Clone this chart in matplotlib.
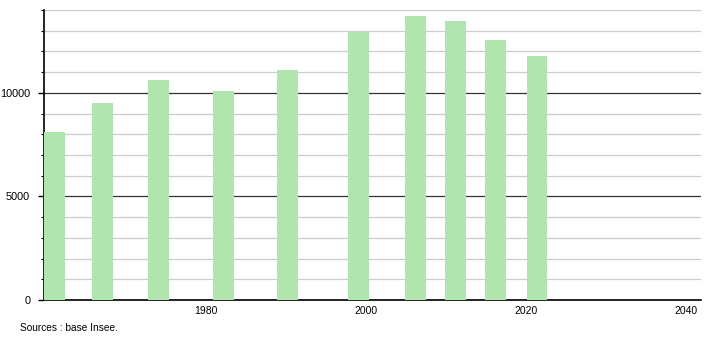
import matplotlib
matplotlib.use("Agg")
import matplotlib.pyplot as plt
from matplotlib.ticker import MultipleLocator

# Population (positions des barres)
annees = [1961, 1967, 1974, 1982.2, 1990.2, 1999.1, 2006.2, 2011.2, 2016.2, 2021.4]
population = [8120, 9510, 10640, 10080, 11080, 12920, 13690, 13450, 12530, 11760]

plt.rcParams['font.family'] = ['Liberation Sans', 'DejaVu Sans']

fig = plt.figure(figsize=(7.1, 3.4), dpi=100)
ax = fig.add_axes([0.062, 0.1176, 0.925, 0.853])

ax.bar(annees, population, width=2.6, color='#b0e5b0', zorder=3)

ax.set_xlim(1959.7, 2041.9)
ax.set_ylim(0, 14000)
ax.set_xticks([1980, 2000, 2020, 2040])
ax.yaxis.set_major_locator(MultipleLocator(5000))
ax.yaxis.set_minor_locator(MultipleLocator(1000))

ax.grid(axis='y', which='minor', color='#cccccc', lw=0.9, zorder=1)
ax.grid(axis='y', which='major', color='#333333', lw=0.9, zorder=2)

for s in ['top', 'right']:
    ax.spines[s].set_visible(False)
ax.spines['left'].set_linewidth(1.2)
ax.spines['bottom'].set_linewidth(1.2)

ax.tick_params(axis='y', which='major', length=4, width=1, pad=6, labelsize=7.8)
ax.tick_params(axis='y', which='minor', length=2, width=0.8)
ax.tick_params(axis='x', length=0, pad=4, labelsize=7.5)

fig.text(0.028, 0.035, 'Sources : base Insee.', fontsize=7.3, va='center')

fig.savefig('out.png', dpi=100)
